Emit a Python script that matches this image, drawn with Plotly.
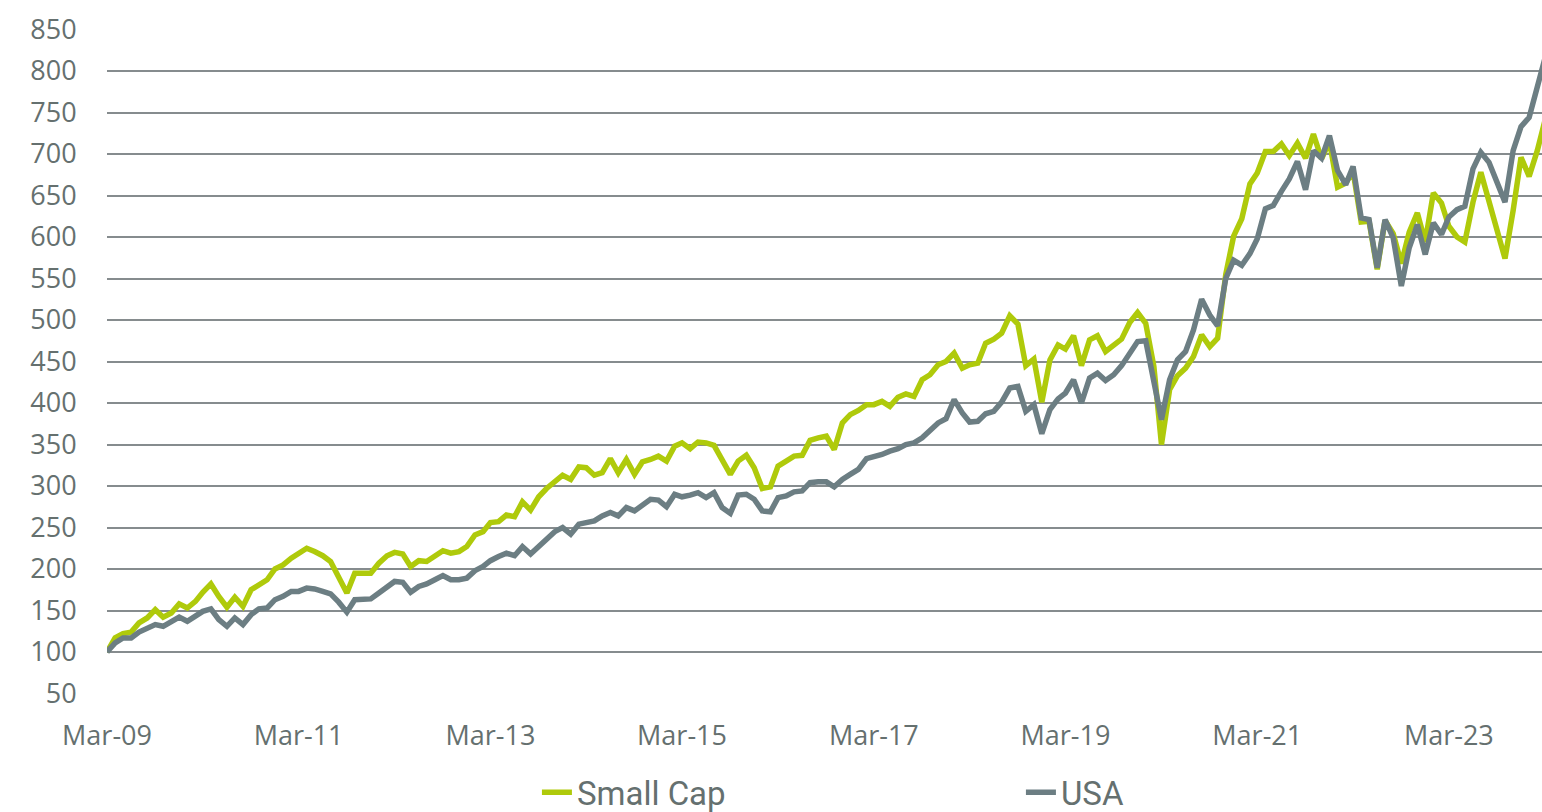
import pandas as pd
import plotly.graph_objects as go

# Monthly index levels, Mar-09 = 100
small_cap = [
    100, 117, 122, 124, 135, 141, 151, 142, 147, 158, 153, 161,
    172, 182, 167, 154, 166, 155, 175, 181, 187, 200, 205, 213,
    218, 225, 221, 216, 209, 191, 171, 195, 195, 195, 207, 216,
    220, 218, 203, 210, 209, 216, 222, 219, 221, 227, 241, 245,
    256, 257, 265, 263, 281, 271, 287, 297, 306, 313, 308, 323,
    322, 313, 316, 333, 316, 332, 314, 329, 332, 336, 330, 348,
    352, 345, 353, 352, 349, 330, 314, 330, 337, 322, 297, 299,
    324, 330, 336, 337, 355, 358, 360, 344, 376, 386, 391, 398,
    398, 402, 396, 407, 411, 408, 428, 434, 446, 450, 460, 442,
    446, 448, 472, 477, 484, 505, 495, 445, 453, 401, 452, 470,
    465, 481, 445, 476, 481, 462, 469, 477, 497, 509, 496, 444,
    350, 416, 433, 442, 456, 482, 468, 478, 555, 601, 622, 664,
    677, 703, 703, 712, 698, 713, 695, 724, 694, 715, 660, 665,
    679, 618, 619, 561, 620, 604, 568, 606, 629, 594, 653, 641,
    613, 600, 594, 642, 678, 644, 608, 574, 632, 696, 673, 704,
    740,
]

usa = [
    100, 111, 117, 117, 124, 128, 133, 131, 137, 142, 137, 143,
    149, 152, 139, 131, 141, 133, 145, 152, 153, 163, 167, 173,
    173, 177, 176, 173, 170, 160, 148, 163, 163, 164, 171, 179,
    185, 184, 172, 179, 182, 187, 192, 187, 187, 189, 198, 203,
    210, 215, 219, 216, 227, 218, 227, 237, 245, 250, 242, 254,
    256, 258, 264, 268, 264, 274, 270, 277, 284, 283, 275, 290,
    287, 289, 292, 286, 292, 274, 267, 289, 290, 284, 270, 269,
    286, 288, 293, 294, 304, 305, 305, 299, 308, 314, 320, 333,
    335, 338, 342, 345, 350, 352, 358, 366, 376, 381, 404, 388,
    377, 378, 387, 390, 401, 418, 420, 390, 398, 363, 392, 405,
    412, 428, 400, 430, 436, 427, 434, 445, 460, 474, 475, 428,
    380, 428, 452, 462, 488, 525, 506, 493, 550, 572, 566, 580,
    598, 634, 638, 655, 670, 691, 657, 704, 695, 722, 680, 663,
    685, 623, 621, 563, 621, 599, 541, 587, 615, 579, 617, 603,
    624, 633, 637, 682, 702, 690, 664, 642, 704, 733, 744, 784,
    815,
]

months = pd.date_range("2009-03-01", periods=len(usa), freq="MS")

series_names = ["Small Cap", "USA"]
series_colors = ["#AFCA0B", "#6C7E83"]

y_ticks = list(range(50, 851, 50))

fig = go.Figure()
for name, vals, col in zip(series_names, [small_cap, usa], series_colors):
    fig.add_trace(go.Scatter(
        x=months, y=vals, name=name, mode="lines",
        line=dict(color=col, width=5.5),
    ))

tick_font = dict(family="Open Sans, DejaVu Sans, sans-serif", size=27, color="#65706F")

fig.update_layout(
    width=1542, height=812,
    margin=dict(l=107, r=0, t=29, b=118, autoexpand=False),
    plot_bgcolor="white", paper_bgcolor="white",
    showlegend=True,
    legend=dict(
        orientation="h", x=0.2996, xanchor="left", y=-0.148, yanchor="middle",
        font=dict(family="Roboto, Open Sans, sans-serif", size=33, color="#65706F"),
        entrywidth=439, entrywidthmode="pixels",
        bgcolor="rgba(0,0,0,0)",
    ),
    xaxis=dict(
        type="date",
        range=["2009-03-01", "2024-02-19"],
        tickformat="%b-%y", dtick="M24", tick0="2009-03-01",
        showgrid=False, zeroline=False, showline=False,
        ticks="outside", ticklen=18, tickcolor="rgba(0,0,0,0)",
        tickfont=tick_font, automargin=False,
    ),
    yaxis=dict(
        range=[49.4, 850.6], tickvals=y_ticks,
        showgrid=True, gridcolor="#868C8E", gridwidth=2,
        zeroline=False, showline=False,
        ticks="outside", ticklen=24, tickcolor="rgba(0,0,0,0)",
        tickfont=tick_font, automargin=False,
    ),
)

# remove the page's default body margin / scrollbars so the figure fills the window
page_css = (
    "document.documentElement.style.margin='0';"
    "document.documentElement.style.overflow='hidden';"
    "document.body.style.margin='0';"
    "document.body.style.overflow='hidden';"
)

fig.write_html("out.html", post_script=page_css, config={"displayModeBar": False})
